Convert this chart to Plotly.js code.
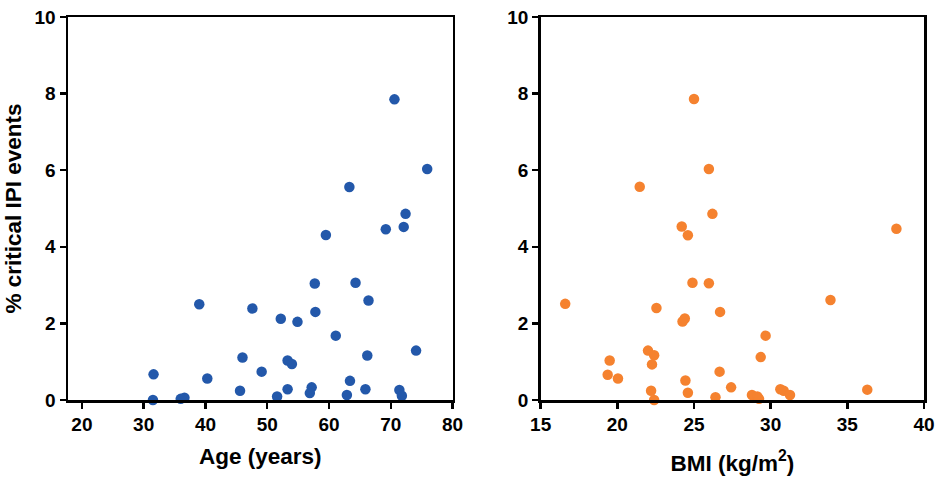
<!DOCTYPE html>
<html>
<head>
<meta charset="utf-8">
<script src="https://cdn.plot.ly/plotly-3.0.1.min.js"></script>
<style>html,body{margin:0;padding:0;background:#fff;}#chart{width:941px;height:477px;}</style>
</head>
<body>
<div id="chart"></div>
<script>
// Left panel: Age (years) vs % critical IPI events
const ageX = [39.0, 47.6, 52.2, 54.9, 31.6, 46.0, 49.1, 40.3, 53.3, 54.0, 45.6, 53.3, 31.5, 36.0, 36.6, 51.6,
              57.7, 64.3, 66.4, 57.8, 61.1, 74.1, 66.2, 63.4, 57.2, 56.9, 65.9, 62.9, 71.4, 71.8,
              75.9, 63.3, 72.4, 69.2, 72.1, 59.5, 70.6];
const ageY = [2.50, 2.39, 2.12, 2.04, 0.67, 1.11, 0.74, 0.56, 1.03, 0.94, 0.24, 0.28, 0.00, 0.03, 0.06, 0.09,
              3.04, 3.06, 2.60, 2.30, 1.68, 1.29, 1.16, 0.50, 0.33, 0.18, 0.28, 0.13, 0.26, 0.11,
              6.03, 5.56, 4.86, 4.46, 4.52, 4.31, 7.85];
// Right panel: BMI (kg/m2) vs % critical IPI events
const bmiX = [24.9, 16.6, 22.55, 24.25, 24.4, 22.0, 22.4, 19.5, 22.26, 19.37, 20.04, 24.44, 22.2, 22.4, 24.6,
              25.97, 33.9, 26.7, 29.67, 29.35, 26.67, 27.42, 30.63, 30.85, 31.26, 26.4, 28.78, 29.13, 29.24,
              25.97, 21.46, 26.2, 24.2, 24.6, 25.0, 38.2, 36.3];
const bmiY = [3.06, 2.51, 2.40, 2.05, 2.13, 1.29, 1.17, 1.03, 0.93, 0.66, 0.56, 0.51, 0.24, 0.00, 0.19,
              3.05, 2.61, 2.30, 1.68, 1.12, 0.74, 0.33, 0.28, 0.24, 0.13, 0.07, 0.13, 0.09, 0.03,
              6.03, 5.57, 4.86, 4.53, 4.30, 7.86, 4.47, 0.27];

const ageTicks = [20, 30, 40, 50, 60, 70, 80];
const bmiTicks = [15, 20, 25, 30, 35, 40];
const yTicks = [0, 2, 4, 6, 8, 10];

const FONT = 'Liberation Sans, Arial, Helvetica, sans-serif';
const tickFont = {family: FONT, size: 19, color: '#000', weight: 700};
const titleFont = {family: FONT, size: 22.5, color: '#000', weight: 700};

function axisBase() {
  return {
    showline: true, linecolor: '#000', linewidth: 2.5, mirror: true,
    ticks: 'outside', ticklen: 6, tickwidth: 2.5, tickcolor: '#000',
    showgrid: false, zeroline: false, tickfont: tickFont, automargin: false
  };
}

const traces = [
  {x: ageX, y: ageY, type: 'scatter', mode: 'markers', xaxis: 'x', yaxis: 'y', cliponaxis: false,
   marker: {color: '#2358AA', size: 10.5}, hoverinfo: 'x+y'},
  {x: bmiX, y: bmiY, type: 'scatter', mode: 'markers', xaxis: 'x2', yaxis: 'y2', cliponaxis: false,
   marker: {color: '#F5822F', size: 10.5}, hoverinfo: 'x+y'}
];

const layout = {
  width: 941, height: 477,
  margin: {l: 68, r: 17, t: 17, b: 77},
  paper_bgcolor: '#fff', plot_bgcolor: '#fff',
  showlegend: false,
  xaxis: Object.assign(axisBase(), {domain: [0, 0.4492], range: [17.75, 80], tickvals: ageTicks,
    title: {text: 'Age (years)', font: titleFont, standoff: 14}}),
  yaxis: Object.assign(axisBase(), {domain: [0, 1], range: [0, 10], tickvals: yTicks, anchor: 'x',
    title: {text: '% critical IPI events', font: titleFont, standoff: 7}}),
  xaxis2: Object.assign(axisBase(), {domain: [0.5522, 1], range: [15, 40], tickvals: bmiTicks, anchor: 'y2',
    title: {text: 'BMI (kg/m<sup>2</sup>)', font: titleFont, standoff: 21}}),
  yaxis2: Object.assign(axisBase(), {domain: [0, 1], range: [0, 10], tickvals: yTicks, anchor: 'x2'})
};

Plotly.newPlot('chart', traces, layout, {displayModeBar: false, staticPlot: true});
</script>
</body>
</html>
